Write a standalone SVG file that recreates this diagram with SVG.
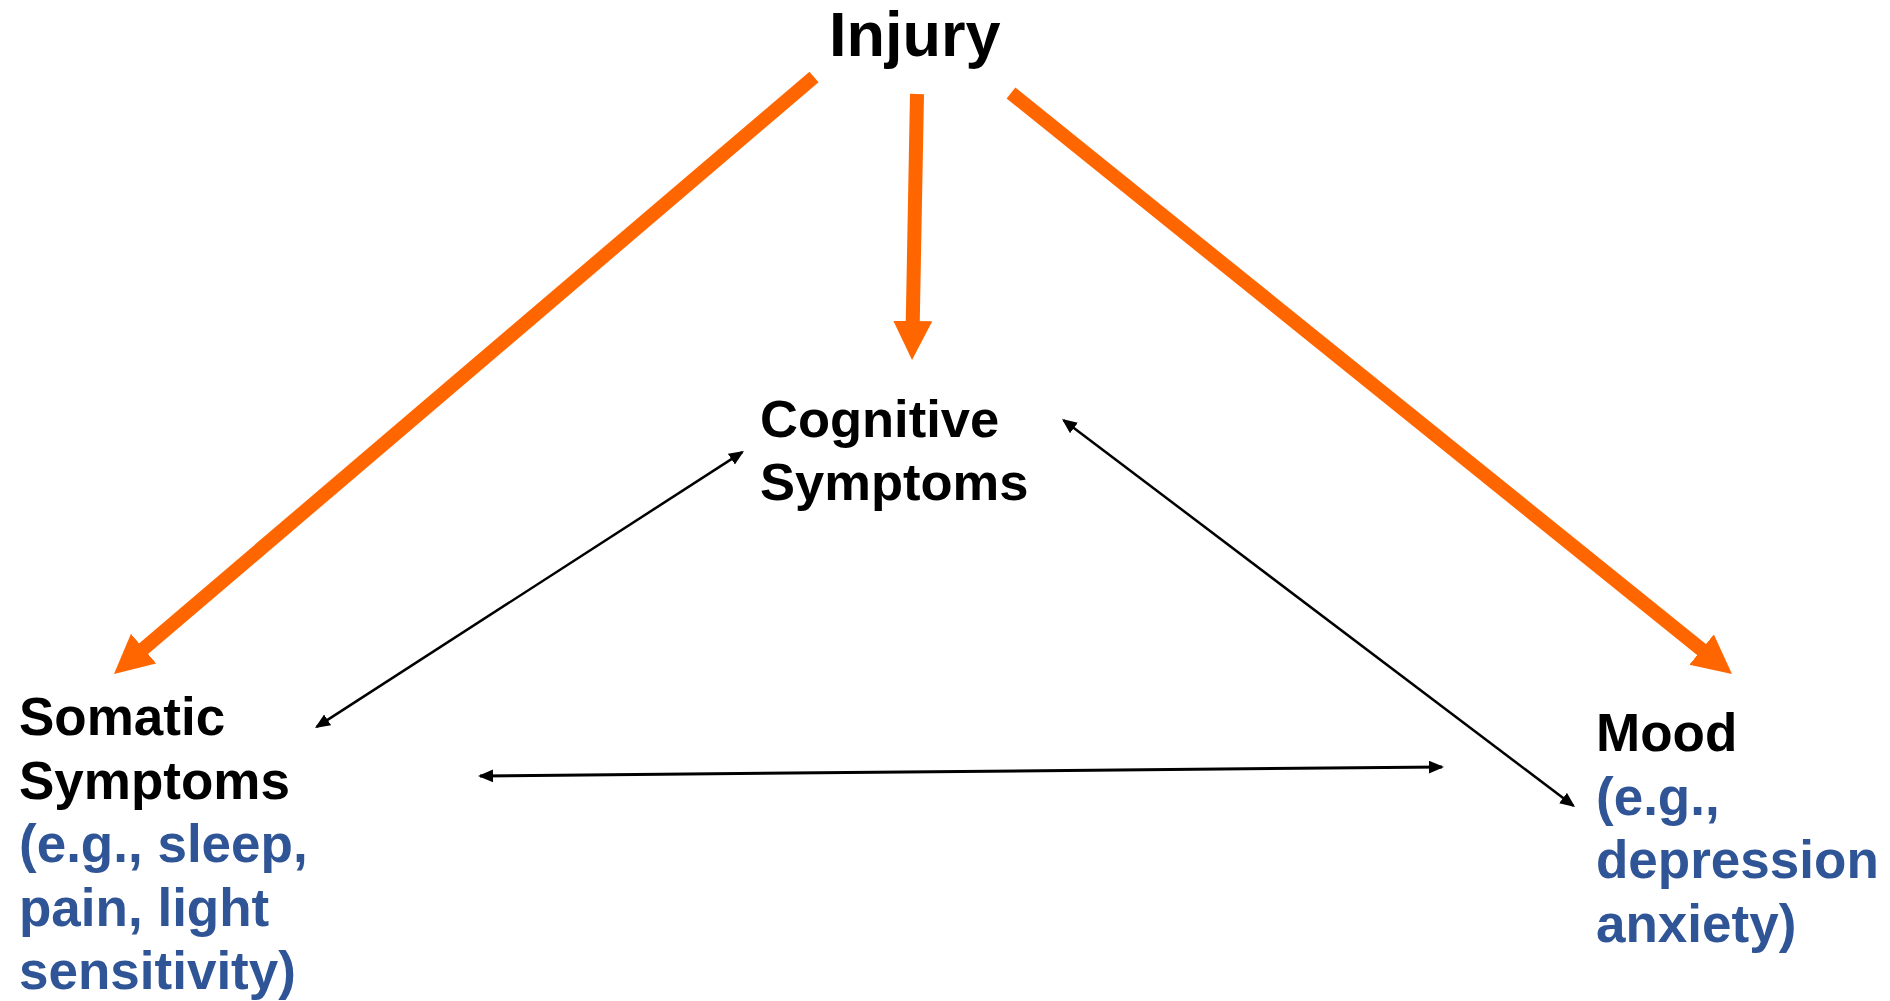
<svg xmlns="http://www.w3.org/2000/svg" width="1890" height="1001" viewBox="0 0 1890 1001">
<style>
.t{font-family:"Liberation Sans",Arial,sans-serif;font-weight:bold;font-size:53px;fill:#000}
.b{fill:#2F5597}
.o{stroke:#FF6600;stroke-width:14;fill:none;marker-end:url(#oh)}
.k{stroke:#000;stroke-width:2.5;fill:none;marker-start:url(#kh);marker-end:url(#kh)}
</style>
<defs>
<marker id="oh" markerUnits="userSpaceOnUse" markerWidth="40" markerHeight="40" refX="9" refY="19.5" orient="auto" viewBox="0 0 40 40">
<path d="M0,0 L39,19.5 L0,39 z" fill="#FF6600"/>
</marker>
<marker id="kh" markerUnits="userSpaceOnUse" markerWidth="16" markerHeight="14" refX="13" refY="6.5" orient="auto-start-reverse" viewBox="0 0 16 14">
<path d="M0,0 L15,6.5 L0,13 z" fill="#000"/>
</marker>
</defs>
<rect width="1890" height="1001" fill="#fff"/>
<g id="connectors">
<line class="o" x1="814" y1="77" x2="136.8" y2="654.5"/>
<line class="o" x1="917" y1="94" x2="912.6" y2="330"/>
<line class="o" x1="1011" y1="93" x2="1708.6" y2="655.2"/>
<line class="k" x1="316.7" y1="726.9" x2="742.3" y2="452.1"/>
<line class="k" x1="1063.6" y1="420.2" x2="1573.4" y2="805.8"/>
<line class="k" style="stroke-width:3" x1="480" y1="776" x2="1442" y2="767"/>
</g>
<g id="injury">
<text class="t" x="829" y="56" style="font-size:63px">Injury</text>
</g>
<g id="cognitive">
<text class="t" x="760" y="437" style="font-size:52.5px">Cognitive</text>
<text class="t" x="760" y="500" style="font-size:52.5px">Symptoms</text>
</g>
<g id="somatic">
<text class="t" x="19" y="735">Somatic</text>
<text class="t" x="19" y="798.5">Symptoms</text>
<text class="t b" x="19" y="862">(e.g., sleep,</text>
<text class="t b" x="19" y="925.5">pain, light</text>
<text class="t b" x="19" y="989">sensitivity)</text>
</g>
<g id="mood">
<text class="t" x="1596" y="751">Mood</text>
<text class="t b" x="1596" y="814.5">(e.g.,</text>
<text class="t b" x="1596" y="878">depression</text>
<text class="t b" x="1596" y="941.5">anxiety)</text>
</g>
</svg>
